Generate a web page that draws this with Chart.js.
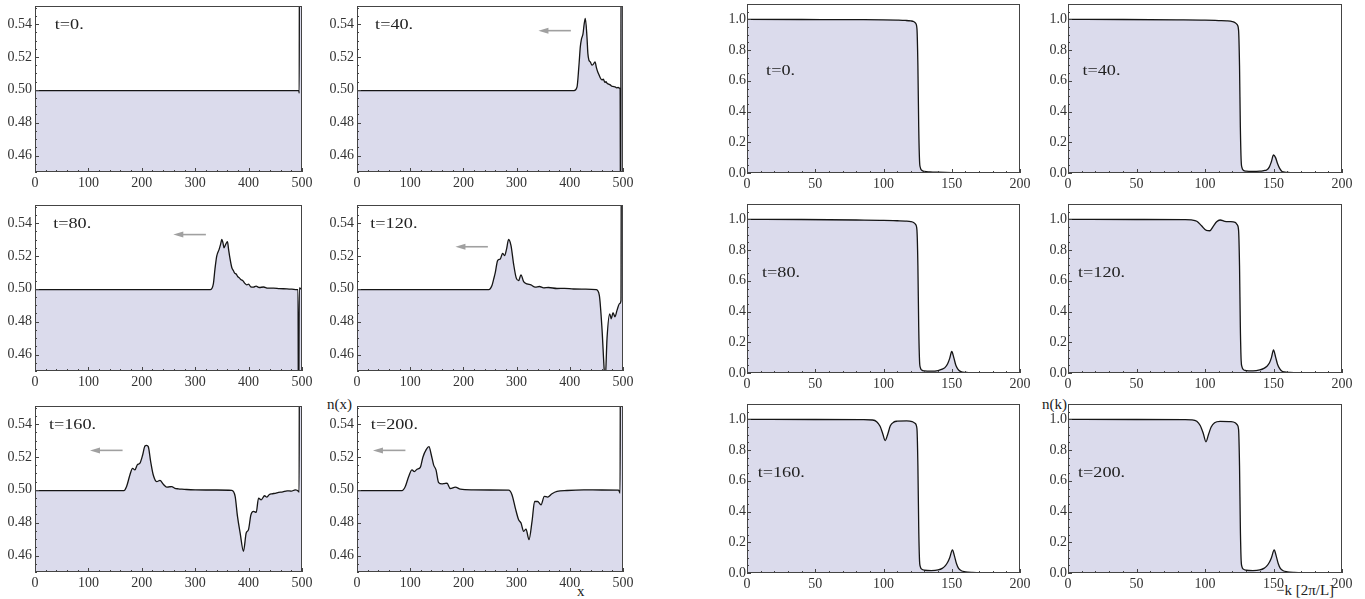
<!DOCTYPE html>
<html>
<head>
<meta charset="utf-8">
<script src="https://cdn.jsdelivr.net/npm/chart.js@4.4.0/dist/chart.umd.min.js"></script>
<style>
body { margin: 0; background: #fff; width: 1365px; height: 599px; position: relative; overflow: hidden; }
canvas { position: absolute; }
.lbl { position: absolute; font-family: "Liberation Serif", serif; font-size: 15px; color: #222; white-space: nowrap; line-height: 1; }
</style>
</head>
<body>
<div class="lbl" style="left:327px;top:397px">n(x)</div>
<div class="lbl" style="left:577px;top:584px">x</div>
<div class="lbl" style="left:1042px;top:397px">n(k)</div>
<div class="lbl" style="left:1276px;top:583px">−k [2π/L]</div>
<script>
// tick labels
const xTicksX = [0, 100, 200, 300, 400, 500];
const yTicksX = [0.46, 0.48, 0.50, 0.52, 0.54];
const xTicksK = [0, 50, 100, 150, 200];
const yTicksK = [0.0, 0.2, 0.4, 0.6, 0.8, 1.0];
const times = ["t=0.", "t=40.", "t=80.", "t=120.", "t=160.", "t=200."];

// density in real space n(x)
const x0 = [0, 494, 494.8, 495.2, 500];
const n0 = [0.4995, 0.4995, 0.498, 0.6, 0.6];
const x40 = [0, 408, 413.5, 417, 419.8, 422, 424.8, 427, 429.2, 432.3, 434, 436, 438.5, 441.7, 444, 447.4, 450, 452.4, 455, 457, 460.5, 463, 466, 468, 470, 473, 476, 479, 482.4, 485, 488, 491, 493.6, 494.6, 495.5, 496.5, 500];
const n40 = [0.4995, 0.4995, 0.5016, 0.514, 0.5263, 0.531, 0.534, 0.540, 0.5434, 0.532, 0.522, 0.518, 0.517, 0.515, 0.5155, 0.517, 0.5135, 0.511, 0.509, 0.5075, 0.506, 0.5065, 0.5045, 0.505, 0.504, 0.5035, 0.503, 0.5022, 0.502, 0.5018, 0.5012, 0.5014, 0.501, 0.5005, 0.40, 0.6, 0.6];
const x80 = [0, 328, 334, 337, 340.4, 344.8, 347.5, 349.8, 352, 354, 357, 360.4, 362.5, 365.4, 368.5, 371.7, 374, 376.7, 379.5, 383, 386, 389.2, 392.5, 396.7, 400, 404, 409, 414, 420, 428, 436, 446.7, 458, 471.7, 481, 490.5, 492.5, 493.5, 495, 500];
const n80 = [0.4995, 0.4995, 0.503, 0.512, 0.520, 0.524, 0.527, 0.530, 0.528, 0.525, 0.527, 0.5287, 0.524, 0.518, 0.513, 0.511, 0.5095, 0.509, 0.5075, 0.5065, 0.5055, 0.505, 0.5035, 0.5024, 0.5028, 0.5012, 0.501, 0.5016, 0.5008, 0.5011, 0.5004, 0.5004, 0.5001, 0.5, 0.4998, 0.4995, 0.4995, 0.40, 0.5005, 0.4995];
const x120 = [0, 247.5, 253.7, 257, 260, 264.3, 269.4, 273.7, 277.5, 281, 285, 289.5, 294.4, 299.4, 303.8, 308.2, 313.2, 319.5, 327, 335, 343, 350.8, 360, 375.9, 390, 407, 430, 449.8, 455.5, 460.5, 464.8, 466.5, 470, 475, 478, 481.2, 485, 488.7, 493.7, 496.2, 497, 500];
const n120 = [0.4995, 0.4995, 0.502, 0.506, 0.510, 0.5172, 0.5182, 0.5216, 0.5202, 0.524, 0.530, 0.5263, 0.515, 0.5065, 0.505, 0.5085, 0.5044, 0.503, 0.5024, 0.501, 0.5014, 0.5006, 0.5008, 0.5002, 0.5003, 0.4999, 0.4998, 0.4995, 0.496, 0.4758, 0.45, 0.444, 0.47, 0.4848, 0.4818, 0.4855, 0.483, 0.4869, 0.491, 0.493, 0.6, 0.6];
const x160 = [0, 166.5, 171.5, 177.7, 182.7, 187.2, 191.5, 196.5, 201.6, 205.9, 209, 212.1, 216.6, 221.5, 227.9, 234, 240.3, 246.6, 251, 256, 262, 268.4, 275, 284.1, 300, 320, 340.5, 368.6, 374.8, 379.2, 384.2, 390.4, 395.5, 399.8, 404.3, 409.2, 414.3, 418.6, 423.6, 429.9, 434.3, 439, 443.7, 450, 456.2, 464, 472, 480, 487.4, 493.7, 494.6, 495.2, 500];
const n160 = [0.4995, 0.4995, 0.502, 0.509, 0.5131, 0.5121, 0.5152, 0.5162, 0.5212, 0.5267, 0.527, 0.5263, 0.5172, 0.509, 0.505, 0.5057, 0.5034, 0.5016, 0.5018, 0.502, 0.5009, 0.5006, 0.5004, 0.5002, 0.5, 0.4999, 0.4999, 0.4997, 0.496, 0.4838, 0.4737, 0.4626, 0.4737, 0.4758, 0.4848, 0.4869, 0.4863, 0.495, 0.4939, 0.4964, 0.4956, 0.4972, 0.4976, 0.4979, 0.4984, 0.4987, 0.4994, 0.4992, 0.5, 0.499, 0.4985, 0.6, 0.6];
const x200 = [0, 84.6, 90.8, 97, 103.4, 107.7, 112.8, 119, 124, 130.3, 135.3, 139.7, 144, 148.5, 153.5, 159.8, 164, 169.2, 175.4, 184.8, 194.2, 219.2, 250, 285, 291.3, 297.6, 303.8, 308.3, 313.2, 317.7, 323.3, 329, 333.9, 339.5, 345.9, 352.1, 358.3, 366.5, 376, 394.8, 426, 460, 491.7, 494.5, 495.2, 500];
const n200 = [0.4995, 0.4995, 0.502, 0.508, 0.5121, 0.5111, 0.5125, 0.5137, 0.520, 0.5246, 0.5263, 0.5212, 0.5152, 0.5121, 0.5044, 0.5036, 0.5038, 0.504, 0.5008, 0.5016, 0.5004, 0.5, 0.4999, 0.4998, 0.497, 0.4889, 0.4818, 0.4798, 0.4747, 0.4761, 0.4697, 0.4808, 0.4929, 0.4929, 0.4909, 0.496, 0.4956, 0.4976, 0.499, 0.4996, 0.5, 0.4999, 0.4998, 0.498, 0.6, 0.6];

// momentum distribution n(k)
const k0 = [0, 40, 80, 100, 110, 116, 120, 122, 123.5, 124.5, 125.2, 125.8, 126.4, 127, 128, 130, 134, 140, 150, 165, 180, 200];
const nk0 = [1.0, 0.999, 0.998, 0.997, 0.995, 0.993, 0.99, 0.986, 0.975, 0.94, 0.7, 0.3, 0.08, 0.035, 0.018, 0.01, 0.007, 0.005, 0.003, 0.001, 0, 0];
const kA = [0, 40, 80, 100, 110, 116, 120, 122, 123.5, 124.5, 125.2, 125.8, 126.4, 127, 128, 130, 135, 140, 143, 145, 147, 148.5, 150, 151.5, 153, 154.5, 156, 158, 162, 170, 185, 200];
const nk40 = [1.0, 0.999, 0.997, 0.995, 0.992, 0.99, 0.985, 0.978, 0.965, 0.93, 0.7, 0.3, 0.08, 0.035, 0.018, 0.012, 0.01, 0.012, 0.016, 0.02, 0.04, 0.075, 0.117, 0.1, 0.06, 0.03, 0.012, 0.006, 0.003, 0.001, 0, 0];
const nk80 = [1.0, 0.999, 0.996, 0.994, 0.991, 0.989, 0.986, 0.98, 0.967, 0.93, 0.7, 0.3, 0.08, 0.035, 0.02, 0.014, 0.012, 0.016, 0.025, 0.035, 0.06, 0.095, 0.14, 0.1, 0.05, 0.025, 0.012, 0.006, 0.003, 0.001, 0, 0];
const k120 = [0, 50, 85, 90, 94, 97.5, 101, 103.5, 106, 108.5, 111, 114.5, 118, 122, 123.5, 124.5, 125.2, 125.8, 126.4, 127, 128, 130, 135, 140, 143, 145, 147, 148.5, 150, 151.5, 153, 154.5, 156, 158, 162, 170, 185, 200];
const nk120 = [1.0, 0.999, 0.998, 0.996, 0.988, 0.958, 0.928, 0.926, 0.955, 0.985, 0.996, 0.987, 0.985, 0.98, 0.965, 0.93, 0.7, 0.3, 0.08, 0.04, 0.022, 0.016, 0.014, 0.02, 0.03, 0.042, 0.065, 0.1, 0.15, 0.105, 0.055, 0.028, 0.013, 0.007, 0.004, 0.002, 0.001, 0];
const k160 = [0, 50, 85, 92, 95, 97.5, 99.5, 101.2, 103, 105, 107.5, 110, 117, 121, 123, 124.5, 125.2, 125.8, 126.4, 127, 128, 130, 135, 140, 143, 145, 147, 148.5, 150.5, 152, 153.5, 155, 157, 160, 165, 175, 200];
const nk160 = [1.0, 0.999, 0.998, 0.996, 0.985, 0.955, 0.905, 0.862, 0.9, 0.958, 0.982, 0.988, 0.99, 0.985, 0.975, 0.94, 0.7, 0.3, 0.08, 0.04, 0.025, 0.018, 0.016, 0.02, 0.03, 0.045, 0.07, 0.1, 0.15, 0.11, 0.06, 0.03, 0.015, 0.008, 0.004, 0.002, 0];
const k200 = [0, 50, 85, 90, 94, 96.5, 98.7, 100.7, 102.5, 104.5, 107, 111, 119, 122, 123.5, 124.5, 125.2, 125.8, 126.4, 127, 128, 130, 135, 140, 143, 145, 147, 148.5, 150.5, 152, 153.5, 155, 157, 160, 165, 175, 200];
const nk200 = [1.0, 0.999, 0.998, 0.997, 0.988, 0.96, 0.91, 0.854, 0.9, 0.95, 0.978, 0.987, 0.985, 0.978, 0.965, 0.935, 0.7, 0.3, 0.08, 0.04, 0.025, 0.018, 0.016, 0.02, 0.03, 0.045, 0.07, 0.1, 0.15, 0.11, 0.06, 0.03, 0.015, 0.008, 0.004, 0.002, 0];

// arrows [from x, to x, y] in data units
const arrowsX = [null, [402, 341, 0.536], [320, 259, 0.533], [246, 185, 0.5256], [164, 103, 0.524], [91, 30, 0.524]];
// where the t labels sit (data units)
const labelAtX = [[37, 0.539], [34, 0.539], [34, 0.539], [25, 0.539], [26, 0.539], [26, 0.539]];
const labelAtK = [[14, 0.662], [10.5, 0.662], [11, 0.652], [7.3, 0.652], [7.8, 0.652], [7.3, 0.652]];

const fill = "rgb(219,219,236)";
const tickFont = { family: "Liberation Serif", size: 14 };

function makePanel(p) {
    const padL = 42, padT = 8, padR = 16, padB = 24;
    const c = document.createElement("canvas");
    c.width = p.R - p.L + padL + padR;
    c.height = p.B - p.T + padT + padB;
    c.style.left = (p.L - padL) + "px";
    c.style.top = (p.T - padT) + "px";
    document.body.appendChild(c);

    const frame = {
        id: "frame",
        afterDatasetsDraw(chart) {
            const { ctx, chartArea: a, scales: { x, y } } = chart;
            ctx.save();
            // time label, a bit wider like the original typesetting
            ctx.save();
            ctx.translate(x.getPixelForValue(p.labelAt[0]), y.getPixelForValue(p.labelAt[1]));
            ctx.scale(1.3, 1);
            ctx.font = '14px "Liberation Serif"';
            ctx.fillStyle = "#222";
            ctx.textAlign = "left";
            ctx.textBaseline = "middle";
            ctx.fillText(p.label, 0, 0);
            ctx.restore();
            // gray arrow
            if (p.arrow) {
                const x1 = x.getPixelForValue(p.arrow[0]);
                const x2 = x.getPixelForValue(p.arrow[1]);
                const yy = y.getPixelForValue(p.arrow[2]);
                ctx.strokeStyle = "#a0a0a0";
                ctx.fillStyle = "#a0a0a0";
                ctx.lineWidth = 1.6;
                ctx.beginPath();
                ctx.moveTo(x1, yy);
                ctx.lineTo(x2 + 8, yy);
                ctx.stroke();
                ctx.beginPath();
                ctx.moveTo(x2, yy);
                ctx.lineTo(x2 + 10, yy - 3);
                ctx.lineTo(x2 + 10, yy + 3);
                ctx.closePath();
                ctx.fill();
            }
            // inward ticks, major and minor
            ctx.strokeStyle = "#444";
            ctx.lineWidth = 1;
            const isMajor = (list, v) => list.some(t => Math.abs(t - v) < 1e-6);
            ctx.beginPath();
            for (let i = 0; ; i++) {
                const v = p.xmin + i * p.xMinor;
                if (v > p.xmax + 1e-9) break;
                const px = Math.round(x.getPixelForValue(v)) + 0.5;
                const len = isMajor(p.xt, v) ? 4 : 2;
                ctx.moveTo(px, a.bottom);
                ctx.lineTo(px, a.bottom - len);
            }
            for (let i = 0; ; i++) {
                const v = p.ymin + i * p.yMinor;
                if (v > p.ymax + 1e-9) break;
                const py = Math.round(y.getPixelForValue(v)) + 0.5;
                const len = isMajor(p.yt, v) ? 4 : 2;
                ctx.moveTo(a.left, py);
                ctx.lineTo(a.left + len, py);
            }
            ctx.stroke();
            // frame
            ctx.strokeStyle = "#444";
            ctx.strokeRect(a.left + 0.5, a.top + 0.5, a.right - a.left - 1, a.bottom - a.top - 1);
            ctx.restore();
        }
    };

    new Chart(c, {
        type: "line",
        data: {
            datasets: [{
                data: p.xs.map((v, i) => ({ x: v, y: p.ys[i] })),
                borderColor: "#151515",
                borderWidth: 1.3,
                backgroundColor: fill,
                fill: "start",
                pointRadius: 0,
                tension: 0.4,
                cubicInterpolationMode: "monotone",
            }],
        },
        options: {
            responsive: false,
            animation: false,
            events: [],
            layout: { padding: { left: 0, top: padT, right: padR, bottom: 0 } },
            plugins: { legend: { display: false }, tooltip: { enabled: false } },
            scales: {
                x: {
                    type: "linear",
                    min: p.xmin,
                    max: p.xmax,
                    grid: { display: false, drawTicks: false },
                    border: { display: false },
                    afterBuildTicks: s => { s.ticks = p.xt.map(v => ({ value: v })); },
                    afterFit: s => { s.height = padB; s.paddingLeft = 0; s.paddingRight = 0; },
                    ticks: { padding: 3, font: tickFont, color: "#333", maxRotation: 0, autoSkip: false, callback: v => String(v) },
                },
                y: {
                    min: p.ymin,
                    max: p.ymax,
                    grid: { display: false, drawTicks: false },
                    border: { display: false },
                    afterBuildTicks: s => { s.ticks = p.yt.map(v => ({ value: v })); },
                    afterFit: s => { s.width = padL; s.paddingTop = 0; s.paddingBottom = 0; },
                    ticks: { padding: p.ypad, font: tickFont, color: "#333", autoSkip: false, callback: v => v.toFixed(p.dec) },
                },
            },
        },
        plugins: [frame],
    });
}

// real space panels
const xsX = [x0, x40, x80, x120, x160, x200];
const nsX = [n0, n40, n80, n120, n160, n200];
const colX = [[35, 302], [357, 623]];
const rowX = [[6, 172], [205, 371], [406, 572]];
// momentum panels
const xsK = [k0, kA, kA, k120, k160, k200];
const nsK = [nk0, nk40, nk80, nk120, nk160, nk200];
const colK = [[747, 1020], [1068, 1342]];
const rowK = [[4, 173], [204, 373], [404, 573]];

for (let i = 0; i < 6; i++) {
    const r = Math.floor(i / 2), cl = i % 2;
    makePanel({
        L: colX[cl][0], R: colX[cl][1], T: rowX[r][0], B: rowX[r][1],
        xs: xsX[i], ys: nsX[i], xmin: 0, xmax: 500, ymin: 0.45, ymax: 0.551,
        xt: xTicksX, yt: yTicksX, xMinor: 20, yMinor: 0.005, dec: 2, ypad: 3,
        label: times[i], labelAt: labelAtX[i], arrow: arrowsX[i],
    });
    makePanel({
        L: colK[cl][0], R: colK[cl][1], T: rowK[r][0], B: rowK[r][1],
        xs: xsK[i], ys: nsK[i], xmin: 0, xmax: 200, ymin: 0, ymax: 1.1,
        xt: xTicksK, yt: yTicksK, xMinor: 10, yMinor: 0.05, dec: 1, ypad: 1,
        label: times[i], labelAt: labelAtK[i], arrow: null,
    });
}
</script>
</body>
</html>
